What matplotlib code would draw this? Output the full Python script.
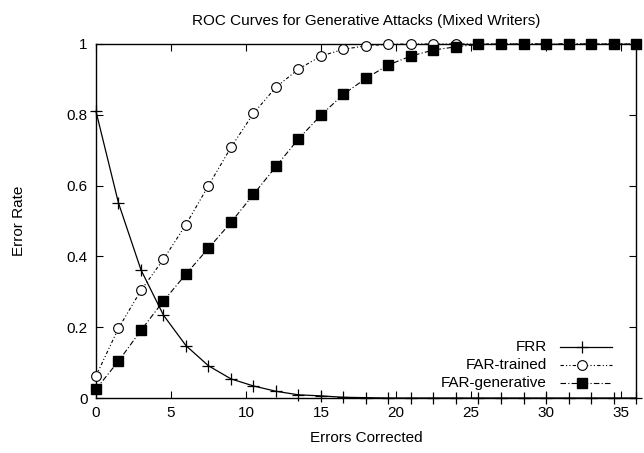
import matplotlib
matplotlib.use('Agg')
import matplotlib.pyplot as plt

plt.rcParams['font.family'] = ['Liberation Sans', 'DejaVu Sans']
plt.rcParams['font.size'] = 11

# errors corrected (marker positions)
errors = [0, 1.5, 3, 4.5, 6, 7.5, 9, 10.5, 12, 13.5, 15, 16.5, 18,
          19.5, 21, 22.5, 24, 25.5, 27, 28.5, 30, 31.5, 33, 34.5, 36]

frr = [0.81, 0.551, 0.362, 0.234, 0.148, 0.091, 0.054, 0.034, 0.019, 0.009,
       0.006, 0.002, 0.001, 0, 0, 0, 0, 0, 0, 0, 0, 0, 0, 0, 0]
far_trained = [0.062, 0.197, 0.304, 0.392, 0.49, 0.60, 0.708, 0.804, 0.878,
               0.929, 0.966, 0.985, 0.995, 0.999, 1, 1, 1, 1, 1, 1, 1, 1, 1, 1, 1]
far_generative = [0.025, 0.104, 0.191, 0.274, 0.35, 0.423, 0.496, 0.575, 0.654,
                  0.732, 0.799, 0.858, 0.903, 0.941, 0.966, 0.983, 0.992, 0.999,
                  1, 1, 1, 1, 1, 1, 1]

fig = plt.figure(figsize=(6.44, 4.53), dpi=100)
ax = fig.add_axes([0.149, 0.1214, 0.8386, 0.7815])

frr_style = dict(color='black', lw=0.9, marker='+', ms=8, mew=0.9)
tr_style = dict(color='black', lw=0.8, dashes=(3, 2, 1, 2, 1, 2), marker='o',
                ms=7, mfc='white', mew=0.8)
gen_style = dict(color='black', lw=0.8, dashes=(5, 2, 1, 2), marker='s', ms=7)

ax.plot(errors, frr, clip_on=False, zorder=3, **frr_style)
ax.plot(errors, far_trained, clip_on=False, zorder=3, **tr_style)
ax.plot(errors, far_generative, clip_on=False, zorder=4, **gen_style)

ax.set_xlim(0, 36)
ax.set_ylim(0, 1)
ax.set_xticks([0, 5, 10, 15, 20, 25, 30, 35])
ax.set_yticks([0, 0.2, 0.4, 0.6, 0.8, 1])
ax.set_yticklabels(['0', '0.2', '0.4', '0.6', '0.8', '1'])
ax.tick_params(direction='in', top=True, right=True, length=5, width=0.8, pad=6)
for s in ax.spines.values():
    s.set_linewidth(1.0)

ax.set_title('ROC Curves for Generative Attacks (Mixed Writers)', fontsize=11, pad=14)
ax.set_xlabel('Errors Corrected', labelpad=8)
ax.set_ylabel('Error Rate', labelpad=29)

# gnuplot-style key in the lower right
labels = ['FRR', 'FAR-trained', 'FAR-generative']
styles = [frr_style, tr_style, gen_style]
key_y = [0.145, 0.093, 0.041]
for lab, st, yy in zip(labels, styles, key_y):
    ax.text(0.835, yy, lab, transform=ax.transAxes, ha='right', va='center')
    line_st = {k: v for k, v in st.items() if k not in ('marker', 'ms', 'mfc', 'mew')}
    ax.plot([0.859, 0.955], [yy, yy], transform=ax.transAxes, **line_st)
    mk_st = {k: v for k, v in st.items() if k not in ('lw', 'dashes')}
    ax.plot([0.9], [yy], transform=ax.transAxes, ls='none', **mk_st)

fig.savefig('out.png', dpi=100)
